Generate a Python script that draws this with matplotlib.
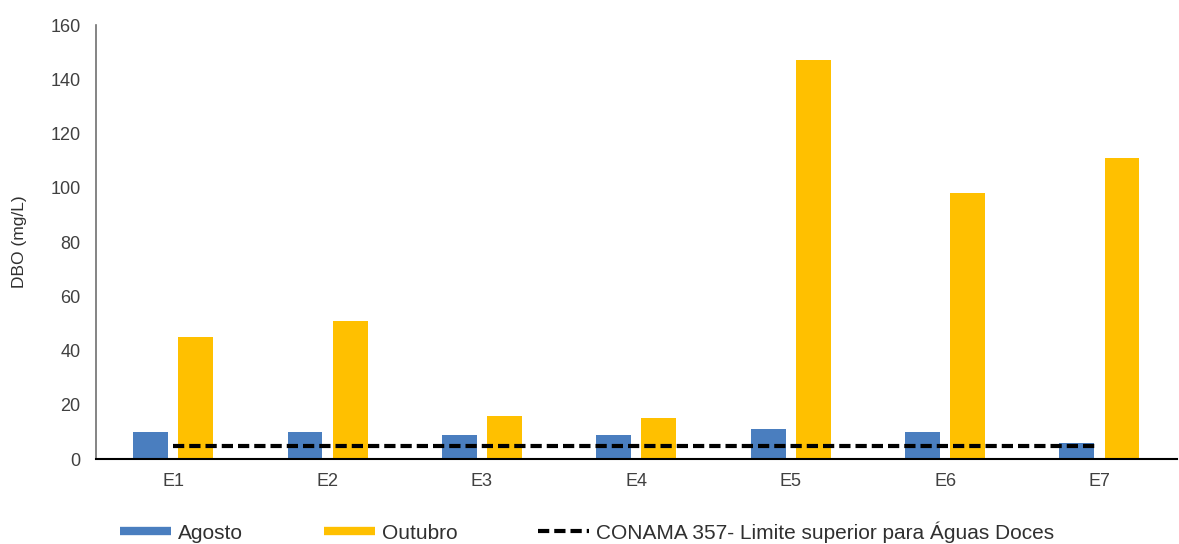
import matplotlib
matplotlib.use('Agg')
import matplotlib.pyplot as plt
from matplotlib.lines import Line2D

plt.rcParams['font.family'] = ['Liberation Sans', 'DejaVu Sans']

estacoes = ['E1', 'E2', 'E3', 'E4', 'E5', 'E6', 'E7']
agosto = [10, 10, 9, 9, 11, 10, 6]
outubro = [45, 51, 16, 15, 147, 98, 111]
limite_conama = [5, 5, 5, 5, 5, 5, 5]
yTicks = [0, 20, 40, 60, 80, 100, 120, 140, 160]

corAgosto = '#4A7EBF'
corOutubro = '#FFC000'

fig = plt.figure(figsize=(11.79, 5.44), dpi=100)
ax = fig.add_axes([0.0814, 0.156, 0.9166, 0.798])

x = list(range(len(estacoes)))
largura = 0.226
desloc = 0.146
ax.bar([i - desloc for i in x], agosto, largura, color=corAgosto, zorder=2)
ax.bar([i + desloc for i in x], outubro, largura, color=corOutubro, zorder=2)
ax.plot(x, limite_conama, color='black', lw=3.0, dashes=(2.7, 1.2), zorder=3)

ax.set_xlim(-0.5, 6.5)
ax.set_ylim(0, 160)
ax.set_xticks(x)
ax.set_xticklabels(estacoes, fontsize=13, color='#404040')
ax.set_yticks(yTicks)
ax.set_yticklabels([str(v) for v in yTicks], fontsize=13, color='#404040')
ax.tick_params(axis='y', length=0, pad=11)
ax.tick_params(axis='x', length=0, pad=10)
ax.set_ylabel('DBO (mg/L)', fontsize=12.5, color='#303030', labelpad=17)

for lado in ['top', 'right']:
    ax.spines[lado].set_visible(False)
ax.spines['left'].set_color('#707070')
ax.spines['left'].set_linewidth(1.2)
ax.spines['bottom'].set_color('black')
ax.spines['bottom'].set_linewidth(1.5)

handles = [
    Line2D([0], [0], color=corAgosto, lw=6, solid_capstyle='butt'),
    Line2D([0], [0], color=corOutubro, lw=6, solid_capstyle='butt'),
    Line2D([0], [0], color='black', lw=3.0, dashes=(2.7, 1.2)),
]
labels = ['Agosto', 'Outubro', 'CONAMA 357- Limite superior para Águas Doces']
fig.legend(handles, labels, loc='center', bbox_to_anchor=(0.498, 0.022),
           ncol=3, frameon=False, fontsize=15, handlelength=2.45,
           handletextpad=0.35, columnspacing=3.85, labelcolor='#303030')

fig.savefig('out.png', dpi=100, facecolor='white')
